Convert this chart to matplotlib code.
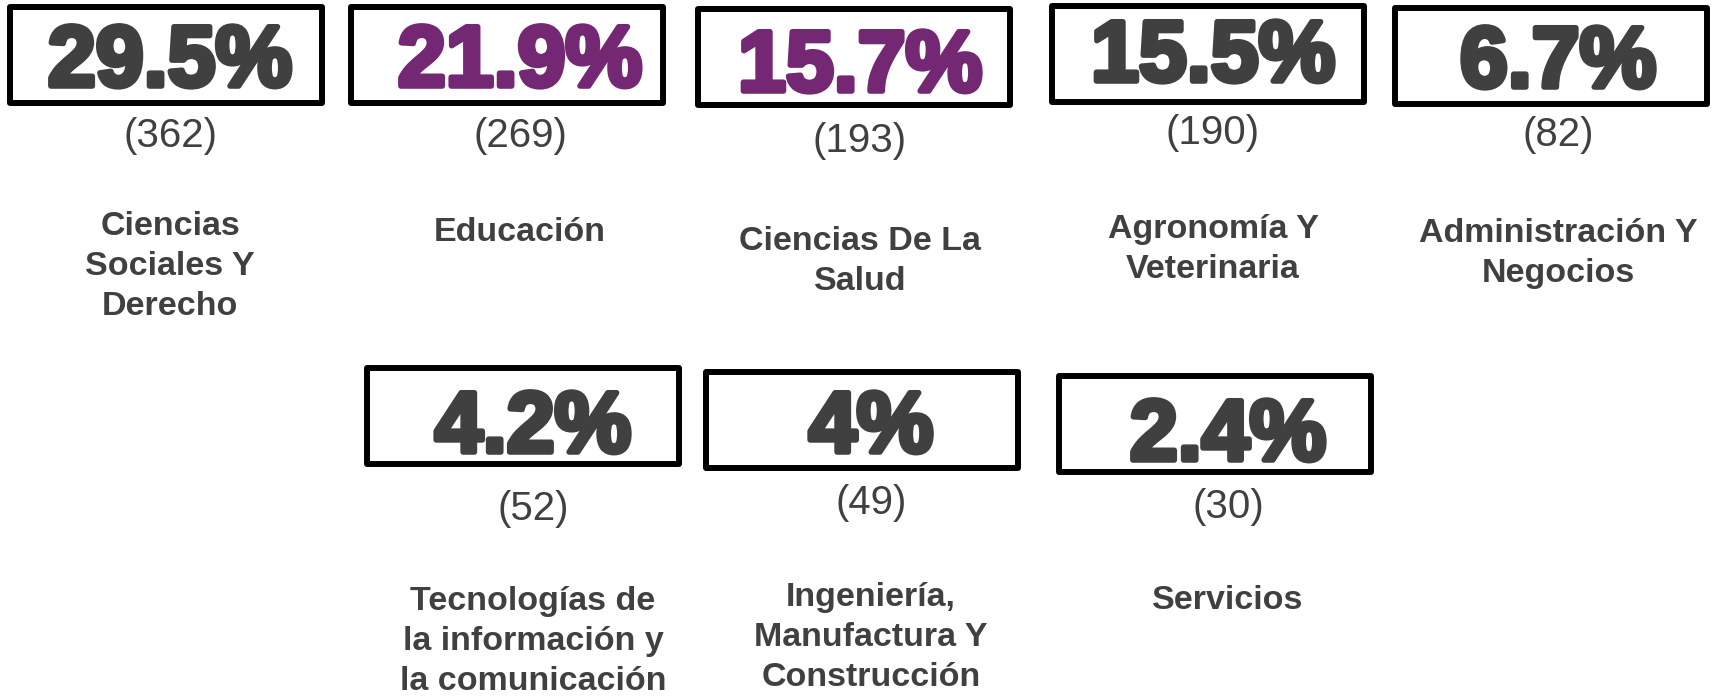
import matplotlib
matplotlib.use("Agg")
import matplotlib.pyplot as plt
import matplotlib.patches as mpatches
import matplotlib.patheffects as pe

# chart values
categories = [
    "Ciencias\nSociales Y\nDerecho",
    "Educación",
    "Ciencias De La\nSalud",
    "Agronomía Y\nVeterinaria",
    "Administración Y\nNegocios",
    "Tecnologías de\nla información y\nla comunicación",
    "Ingeniería,\nManufactura Y\nConstrucción",
    "Servicios",
]
percent_labels = ["29.5%", "21.9%", "15.7%", "15.5%", "6.7%", "4.2%", "4%", "2.4%"]
counts = [362, 269, 193, 190, 82, 52, 49, 30]
highlighted = [False, True, True, False, False, False, False, False]

# layout (pixel coordinates, y measured from top)
text_x = [170, 520, 860, 1213, 1558, 533, 871, 1228]
box_x0 = [10, 351, 698, 1052, 1395, 367, 706, 1059]
box_y0 = [7, 7, 9, 6, 8, 368, 372, 376]
box_w = 312
box_h = 96
pct_y = [64, 64, 69, 59, 65, 430, 430, 438]
count_y = [136, 136, 141, 133, 135, 509, 503, 507]
label_y = [226, 232, 241, 229, 233, 601, 597, 600]

GRAY = "#404040"
PURPLE = "#742772"

W, H = 1713, 697
fig = plt.figure(figsize=(W / 100, H / 100), dpi=100)
ax = fig.add_axes([0, 0, 1, 1])
ax.set_xlim(0, W)
ax.set_ylim(H, 0)
ax.axis("off")

font = "Liberation Sans"
for i, cat in enumerate(categories):
    ax.add_patch(mpatches.Rectangle((box_x0[i], box_y0[i]), box_w, box_h,
                                    fill=False, edgecolor="black", linewidth=4.3,
                                    joinstyle="round"))
    col = PURPLE if highlighted[i] else GRAY
    ax.text(text_x[i], pct_y[i], percent_labels[i], ha="center", va="center",
            fontsize=62, fontweight="bold", color=col, family=font,
            path_effects=[pe.withStroke(linewidth=4, foreground=col)])
    ax.text(text_x[i], count_y[i], f"({counts[i]})", ha="center", va="center",
            fontsize=29, color=GRAY, family=font)
    ax.text(text_x[i], label_y[i] - 15, cat, ha="center", va="top",
            fontsize=24.5, fontweight="bold", color=GRAY, family=font,
            linespacing=1.38)

fig.savefig("out.png", dpi=100)
